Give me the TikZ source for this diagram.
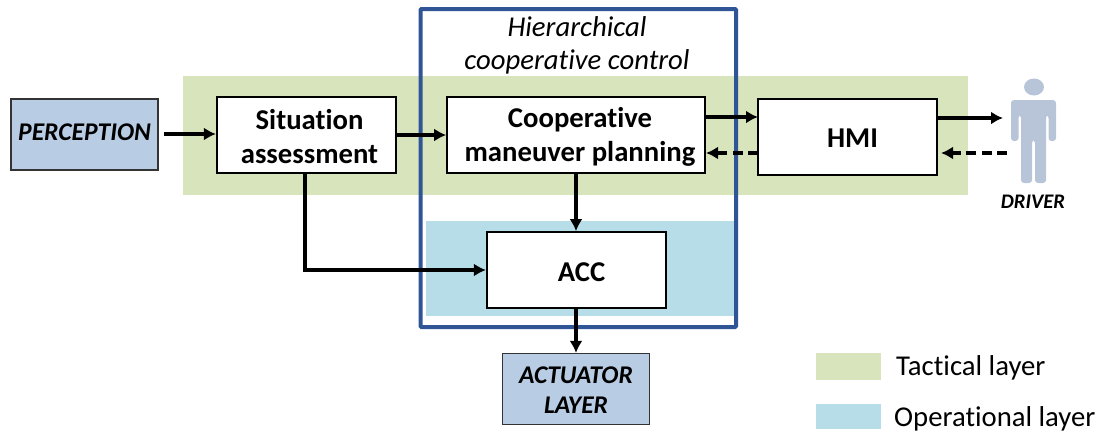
\documentclass[tikz,border=0pt]{standalone}
\usepackage{fontspec}
\setmainfont{Carlito}[Ligatures=NoCommon]
\usetikzlibrary{arrows.meta}
\definecolor{tacticalgreen}{RGB}{216,228,188}
\definecolor{operationalblue}{RGB}{183,222,232}
\definecolor{layerblue}{RGB}{184,204,228}
\definecolor{framedarkblue}{RGB}{47,85,151}
\definecolor{driverblue}{RGB}{184,196,216}
\newcommand{\nudged}[3]{\hspace*{#1}\raisebox{#2}[\height][\depth]{#3}}
\begin{document}
\begin{tikzpicture}[x=1pt, y=-1pt,
        blockbox/.style={draw=black, line width=1.7pt, fill=white, align=center, inner sep=0pt, font=\fontsize{28.7}{34}\selectfont\bfseries},
        layerbox/.style={draw=black!80, line width=1.2pt, fill=layerblue, align=center, inner sep=0pt, font=\fontsize{25.5}{29.5}\selectfont\bfseries\itshape},
        legendtext/.style={anchor=west, inner sep=0pt, font=\fontsize{28.7}{30}\selectfont},
        flow/.style={line width=3.6pt, -{Latex[length=12pt,width=13pt]}},
        flowback/.style={flow, dash pattern=on 10pt off 5.5pt}]
        \useasboundingbox (0,0) rectangle (1099,432);

        % layers
        \fill[tacticalgreen] (183,76) rectangle (968,195);
        \fill[operationalblue] (426,221) rectangle (734,316);
        \draw[framedarkblue, line width=4pt, rounded corners=1pt] (420.5,9) rectangle (736,327);
        \node[align=center, inner sep=0pt, font=\fontsize{28.7}{33}\selectfont\itshape] (title) at (577,45) {Hierarchical\\cooperative control};

        % blocks
        \node[layerbox, minimum width=147pt, minimum height=71pt] (perception) at (84.5,134.5) {\nudged{0pt}{2pt}{PERCEPTION}};
        \node[blockbox, minimum width=179.5pt, minimum height=76pt] (situation) at (306.5,135) {\nudged{6pt}{-2pt}{Situation}\\\nudged{6pt}{-2pt}{assessment}};
        \node[blockbox, minimum width=258pt, minimum height=76pt] (planning) at (576,135) {\nudged{8pt}{-2pt}{Cooperative}\\\nudged{8pt}{-2pt}{maneuver planning}};
        \node[blockbox, minimum width=179pt, minimum height=76pt] (hmi) at (847.5,137) {\nudged{10pt}{-1pt}{HMI}};
        \node[blockbox, minimum width=179.5pt, minimum height=76pt] (acc) at (576.5,270) {\nudged{10pt}{-2pt}{ACC}};
        \node[layerbox, minimum width=147pt, minimum height=71pt] (actuator) at (576,389) {\nudged{0pt}{-1pt}{ACTUATOR}\\\nudged{0pt}{-1pt}{LAYER}};

        % driver
        \fill[driverblue] (1034,87) ellipse (10pt and 8.5pt);
        \fill[driverblue, rounded corners=3pt] (1011,100) -- (1056,100) -- (1056,141) -- (1048.5,141) -- (1048.5,115) -- (1046,115) -- (1046,183) -- (1035,183) -- (1035,140) -- (1032,140) -- (1032,183) -- (1021,183) -- (1021,115) -- (1018.5,115) -- (1018.5,141) -- (1011,141) -- cycle;
        \node[inner sep=0pt, font=\fontsize{20.7}{22}\selectfont\bfseries\itshape] (driver) at (1033,202) {DRIVER};

        % connector ends
        \coordinate (perceptionout) at (163.5,134);
        \coordinate (planningtop) at (705,117);
        \coordinate (hmitop) at (758,117);
        \coordinate (hmibottom) at (758,153);
        \coordinate (planningbottom) at (706,153);
        \coordinate (hmiout) at (937,118);
        \coordinate (driverin) at (1003,118);
        \coordinate (driverout) at (1007,153);
        \coordinate (hmiin) at (941,153);
        \coordinate (situationturn) at (305,270);

        % arrows
        \draw[flow] (perceptionout) -- (perceptionout -| situation.west);
        \draw[flow] (situation.east |- planning.west) -- (planning.west);
        \draw[flow] (planningtop) -- (hmitop);
        \draw[flowback] (hmibottom) -- (planningbottom);
        \draw[flow] (hmiout) -- (driverin);
        \draw[flowback] (driverout) -- (hmiin);
        \draw[flow] (situationturn |- situation.south) -- (situationturn) -- (acc.west);
        \draw[flow] (planning.south) -- (planning.south |- acc.north);
        \draw[flow] (acc.south -| planning.south) -- (planning.south |- actuator.north);

        % legend
        \fill[tacticalgreen] (816,353) rectangle (881,380);
        \fill[operationalblue] (816,404) rectangle (881,429);
        \node[legendtext] (tactical) at (896,368) {Tactical layer};
        \node[legendtext] (operational) at (894,419) {Operational layer};
      \end{tikzpicture}
\end{document}
